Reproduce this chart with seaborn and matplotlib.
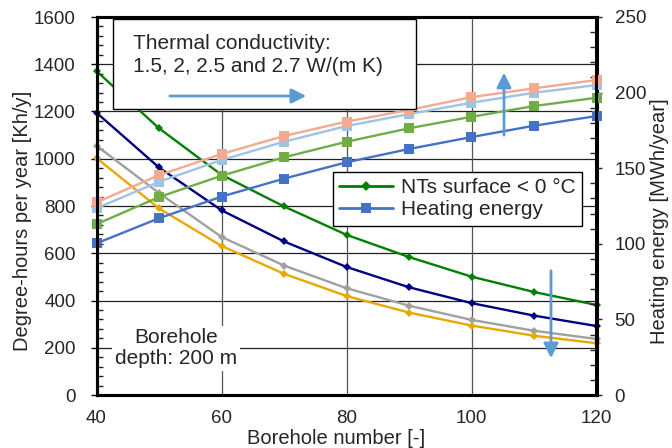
import numpy as np
import pandas as pd
import matplotlib
matplotlib.use("Agg")
import matplotlib.pyplot as plt
from matplotlib.lines import Line2D
from matplotlib.patches import Rectangle
from matplotlib.ticker import MultipleLocator
import seaborn as sns

# ---------------- data ----------------
boreholes = [40, 50, 60, 70, 80, 90, 100, 110, 120]
conductivities = ["1.5", "2", "2.5", "2.7"]

nts_15 = [1371, 1129, 932, 798, 678, 584, 501, 436, 381]
nts_20 = [1195, 963, 782, 650, 542, 456, 389, 336, 292]
nts_25 = [1055, 855, 669, 548, 452, 378, 318, 272, 237]
nts_27 = [1003, 790, 631, 513, 419, 349, 294, 251, 219]

heat_15 = [100.3, 116.9, 131.2, 143.1, 153.9, 162.7, 170.6, 178.1, 184.5]
heat_20 = [113.0, 130.9, 145.0, 157.2, 167.5, 176.4, 184.0, 191.1, 196.6]
heat_25 = [123.5, 141.0, 155.4, 167.5, 177.9, 185.8, 193.3, 199.9, 205.0]
heat_27 = [127.4, 145.4, 159.4, 171.3, 180.8, 188.5, 197.0, 202.8, 208.3]

nts_colors = ["#008000", "#000080", "#A0A0A0", "#E8A800"]
heat_colors = ["#4472C4", "#70AD47", "#9DC3E6", "#F4AA90"]

x_ticks = [40, 60, 80, 100, 120]
left_ticks = [0, 200, 400, 600, 800, 1000, 1200, 1400, 1600]
right_ticks = [0, 50, 100, 150, 200, 250]

# ---------------- long tables ----------------
nts_df = pd.concat([
    pd.DataFrame({"n": boreholes, "val": v, "k": k})
    for v, k in zip([nts_15, nts_20, nts_25, nts_27], conductivities)
])
heat_df = pd.concat([
    pd.DataFrame({"n": boreholes, "val": v, "k": k})
    for v, k in zip([heat_15, heat_20, heat_25, heat_27], conductivities)
])

sns.set_style("white")
plt.rcParams["font.family"] = ["Liberation Sans", "DejaVu Sans"]

fig = plt.figure(figsize=(6.72, 4.48), dpi=100)
ax = fig.add_axes([96.5 / 672, 1 - 395 / 448, 500 / 672, 378 / 448])
ax2 = ax.twinx()

sns.lineplot(data=nts_df, x="n", y="val", hue="k", palette=nts_colors,
             marker="D", markersize=4.5, markeredgewidth=0, linewidth=1.7,
             ax=ax, legend=False)
sns.lineplot(data=heat_df, x="n", y="val", hue="k", palette=heat_colors,
             marker="s", markersize=6.5, markeredgewidth=0, linewidth=1.7,
             ax=ax2, legend=False)
for a in (ax, ax2):
    for ln in a.lines:
        ln.set_clip_on(False)

ax.set_xlim(40, 120)
ax.set_ylim(0, 1600)
ax2.set_ylim(0, 250)
ax.set_xticks(x_ticks)
ax.set_yticks(left_ticks)
ax2.set_yticks(right_ticks)
ax.xaxis.set_minor_locator(MultipleLocator(10))
ax.yaxis.set_minor_locator(MultipleLocator(40))
ax2.yaxis.set_minor_locator(MultipleLocator(10))

# grid
for v in left_ticks[1:-1]:
    ax.axhline(v, color="#222222", lw=0.9, zorder=0.5)
for v in x_ticks[1:-1]:
    ax.axvline(v, color="#555555", lw=0.9, zorder=0.5)

for a in (ax, ax2):
    for s in a.spines.values():
        s.set_linewidth(2.2)
        s.set_color("black")

ax.tick_params(axis="y", which="major", direction="out", length=4, width=1.0,
               labelsize=13.5, pad=11, color="black")
ax.tick_params(axis="y", which="minor", direction="in", length=4, width=1.0)
ax.tick_params(axis="x", which="major", direction="in", length=5, width=1.0,
               labelsize=13.5, pad=11)
ax.tick_params(axis="x", which="minor", direction="in", length=4, width=1.0)
ax2.tick_params(axis="y", which="major", direction="out", length=4, width=1.0,
                labelsize=13.5, pad=9)
ax2.tick_params(axis="y", which="minor", direction="in", length=4, width=1.0)

ax.set_xlabel("Borehole number [-]", fontsize=14.5)
ax.set_ylabel("Degree-hours per year [Kh/y]", fontsize=14.5)
ax2.set_ylabel("Heating energy [MWh/year]", fontsize=14.5)
ax.xaxis.set_label_coords(0.48, -0.091)
ax.yaxis.set_label_coords(-0.128, 0.46)
ax2.yaxis.set_label_coords(1.108, 0.46)

# text box: thermal conductivity
box = Rectangle((0.033, 0.757), 0.606, 0.238, transform=ax2.transAxes,
                facecolor="white", edgecolor="black", lw=1.0, zorder=10)
ax2.add_patch(box)
ax2.text(0.073, 0.931, "Thermal conductivity:", transform=ax2.transAxes,
         fontsize=15, va="center", ha="left", zorder=11)
ax2.text(0.073, 0.870, "1.5, 2, 2.5 and 2.7 W/(m K)", transform=ax2.transAxes,
         fontsize=15, va="center", ha="left", zorder=11)
arrow_c = "#5B9BD5"
ax2.annotate("", xy=(0.425, 0.791), xytext=(0.141, 0.791),
             xycoords="axes fraction", textcoords="axes fraction",
             arrowprops=dict(arrowstyle="-|>", color=arrow_c, lw=2,
                             mutation_scale=22), zorder=12)

# vertical arrows
ax2.annotate("", xy=(0.815, 0.86), xytext=(0.815, 0.68),
             xycoords="axes fraction", textcoords="axes fraction",
             arrowprops=dict(arrowstyle="-|>", color=arrow_c, lw=2,
                             mutation_scale=22), zorder=12)
ax2.annotate("", xy=(0.909, 0.09), xytext=(0.909, 0.336),
             xycoords="axes fraction", textcoords="axes fraction",
             arrowprops=dict(arrowstyle="-|>", color=arrow_c, lw=2,
                             mutation_scale=22), zorder=12)

# borehole depth text
ax2.text(0.159, 0.124, "Borehole\ndepth: 200 m", transform=ax2.transAxes,
         fontsize=15, ha="center", va="center", linespacing=1.1, zorder=11,
         bbox=dict(facecolor="white", edgecolor="none", pad=2))

# legend
handles = [
    Line2D([], [], color="#008000", marker="D", markersize=5, markeredgewidth=0, lw=2),
    Line2D([], [], color="#4472C4", marker="s", markersize=7, markeredgewidth=0, lw=2),
]
leg = ax2.legend(handles, ["NTs surface < 0 °C", "Heating energy"],
                 loc="upper left", bbox_to_anchor=(0.473, 0.59),
                 fontsize=15, frameon=True, fancybox=False, framealpha=1,
                 edgecolor="black", handlelength=2.6, handletextpad=0.35,
                 borderpad=0.3, labelspacing=0.15, borderaxespad=0)
leg.get_frame().set_linewidth(1.0)
leg.set_zorder(13)

fig.savefig("out.png", dpi=100)
